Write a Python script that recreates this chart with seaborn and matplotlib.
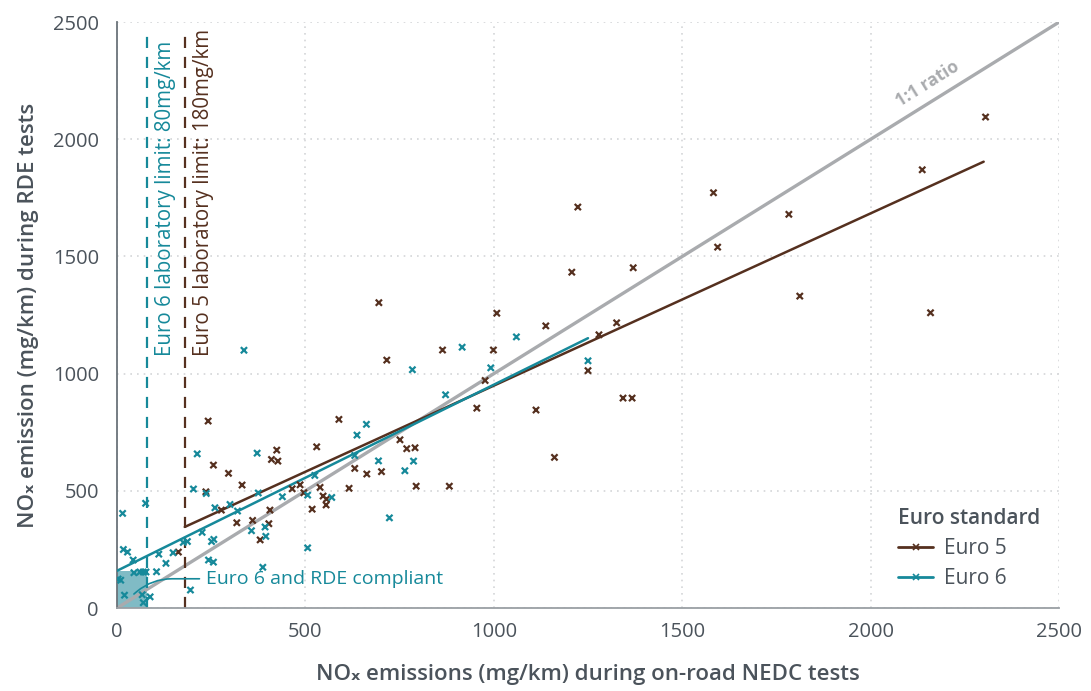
import numpy as np
import pandas as pd
import matplotlib
matplotlib.use("Agg")
import matplotlib.pyplot as plt
import seaborn as sns
from matplotlib.lines import Line2D
from matplotlib.patches import Rectangle

# ---------------- data ----------------
euro5_nedc = [2305, 2137, 1583, 1783, 1223, 1594, 1812, 2159, 1370, 1207,
              695, 1008, 1138, 1326, 1279, 864, 999, 716, 977, 955,
              1112, 1343, 1367, 1250, 1161, 882, 589, 751, 769, 791,
              631, 663, 702, 539, 616, 794, 547, 556, 555, 242,
              424, 410, 427, 256, 296, 332, 236, 530, 465, 486,
              496, 518, 277, 406, 318, 360, 403, 380, 163]
euro5_rde = [2095, 1870, 1772, 1680, 1711, 1540, 1331, 1260, 1452, 1433,
             1303, 1258, 1204, 1217, 1166, 1101, 1101, 1058, 971, 853,
             845, 896, 896, 1013, 643, 520, 805, 718, 680, 684,
             596, 572, 582, 515, 511, 520, 478, 465, 440, 798,
             674, 634, 627, 610, 575, 525, 496, 688, 509, 526,
             492, 422, 418, 418, 364, 374, 360, 291, 239]

euro6_nedc = [916, 1060, 1250, 784, 992, 872, 337, 662, 637, 631,
              694, 787, 764, 570, 723, 213, 372, 203, 237, 375,
              506, 525, 439, 260, 300, 320, 357, 393, 395, 226,
              251, 257, 176, 187, 506, 76, 15, 17, 28, 43,
              111, 149, 130, 105, 77, 70, 61, 45, 3, 10,
              20, 67, 88, 70, 195, 243, 256, 387]
euro6_rde = [1113, 1157, 1055, 1017, 1025, 910, 1100, 784, 738, 651,
             628, 627, 586, 472, 385, 658, 661, 508, 489, 491,
             482, 566, 475, 428, 442, 414, 330, 346, 306, 323,
             284, 293, 280, 284, 257, 447, 404, 250, 239, 205,
             230, 236, 191, 155, 154, 154, 154, 151, 124, 119,
             55, 57, 48, 23, 77, 205, 196, 174]

# linear trend lines (slope, intercept, x-range)
euro5_fit = {"slope": 0.735, "intercept": 214, "x": [180, 2300]}
euro6_fit = {"slope": 0.794, "intercept": 159, "x": [0, 1250]}

ratio_line = [0, 2500]
euro6_limit = 80
euro5_limit = 180
rde_box_height = 160

x_ticks = [0, 500, 1000, 1500, 2000, 2500]
y_ticks = [0, 500, 1000, 1500, 2000, 2500]

# ---------------- style ----------------
BROWN = "#55301f"
TEAL = "#16899a"
GREY_LINE = "#a9abae"
TEXT = "#4b535b"

sns.set_theme(style="white")
plt.rcParams["font.family"] = ["Open Sans", "DejaVu Sans"]

df = pd.concat([
    pd.DataFrame({"nedc": euro5_nedc, "rde": euro5_rde, "std": "Euro 5"}),
    pd.DataFrame({"nedc": euro6_nedc, "rde": euro6_rde, "std": "Euro 6"}),
], ignore_index=True)
palette = {"Euro 5": BROWN, "Euro 6": TEAL}

fig = plt.figure(figsize=(10.91, 6.91), dpi=100)
ax = fig.add_axes([0.1072, 0.120, 0.8635, 0.848])

# shaded compliance box
ax.add_patch(Rectangle((0, 0), euro6_limit, rde_box_height,
                       facecolor="#72b4bf", edgecolor="none", alpha=0.9, zorder=1))

# 1:1 ratio line
sns.lineplot(x=ratio_line, y=ratio_line, color=GREY_LINE, lw=2.4, ax=ax, zorder=2)

# trend lines
for fit, col in [(euro5_fit, BROWN), (euro6_fit, TEAL)]:
    xs = np.array(fit["x"], dtype=float)
    sns.lineplot(x=xs, y=fit["slope"] * xs + fit["intercept"], color=col, lw=1.8,
                 ax=ax, zorder=3)

# scatter
sns.scatterplot(data=df, x="nedc", y="rde", hue="std", palette=palette,
                marker="x", s=20, linewidth=1.6, ax=ax, legend=False, zorder=4)

# limit lines
ax.axvline(euro6_limit, ymin=0, ymax=0.99, color=TEAL, ls=(0, (5, 4)), lw=1.6, zorder=2)
ax.axvline(euro5_limit, ymin=0, ymax=0.99, color=BROWN, ls=(0, (5, 4)), lw=1.6, zorder=2)
ax.text(euro6_limit + 22, 1075, "Euro 6 laboratory limit: 80mg/km", rotation=90,
        color=TEAL, fontsize=14.8, ha="left", va="bottom")
ax.text(euro5_limit + 22, 1075, "Euro 5 laboratory limit: 180mg/km", rotation=90,
        color=BROWN, fontsize=14.8, ha="left", va="bottom")

# 1:1 ratio label
ax.text(2150, 2235, "1:1 ratio", rotation=32, color=GREY_LINE, fontsize=12.5,
        fontweight="bold", ha="center", va="center", rotation_mode="anchor")

# compliant annotation
ax.annotate("Euro 6 and RDE compliant", xy=(45, 60), xytext=(235, 125),
            color=TEAL, fontsize=14, va="center", ha="left",
            arrowprops=dict(arrowstyle="-", color=TEAL, lw=1.2,
                            connectionstyle="angle,angleA=0,angleB=40,rad=20",
                            shrinkA=2, shrinkB=0))

# axes
ax.set_xlim(0, 2500)
ax.set_ylim(0, 2500)
ax.set_xticks(x_ticks)
ax.set_yticks(y_ticks)
ax.tick_params(axis="both", length=0, labelsize=14.5, colors=TEXT)
ax.tick_params(axis="y", pad=13)
ax.tick_params(axis="x", pad=10)
ax.grid(True, color="#d4d6d8", ls=(0, (1, 3)), lw=1.2)
ax.set_axisbelow(True)
for s in ["top", "right"]:
    ax.spines[s].set_visible(False)
ax.spines["left"].set_color("#6b737a")
ax.spines["bottom"].set_color("#9a9fa4")
ax.spines["left"].set_linewidth(1.3)
ax.spines["bottom"].set_linewidth(1.3)

ax.set_xlabel("NOₓ emissions (mg/km) during on-road NEDC tests", fontsize=16,
              fontweight="semibold", color=TEXT, labelpad=16)
ax.set_ylabel("NOₓ emission (mg/km) during RDE tests", fontsize=16,
              fontweight="semibold", color=TEXT, labelpad=10)

handles = [Line2D([0], [0], color=BROWN, marker="x", markersize=4, lw=2, mew=1.2),
           Line2D([0], [0], color=TEAL, marker="x", markersize=4, lw=2, mew=1.2)]
leg = ax.legend(handles, ["Euro 5", "Euro 6"], title="Euro standard",
                loc="lower right", bbox_to_anchor=(1.0, 0.0), frameon=False,
                fontsize=15, title_fontsize=15, handlelength=1.7,
                handletextpad=0.5, labelspacing=0.45)
leg.get_title().set_fontweight("semibold")
leg.get_title().set_color(TEXT)
leg._legend_box.align = "left"
for t in leg.get_texts():
    t.set_color(TEXT)

fig.savefig("out.png", dpi=100)
